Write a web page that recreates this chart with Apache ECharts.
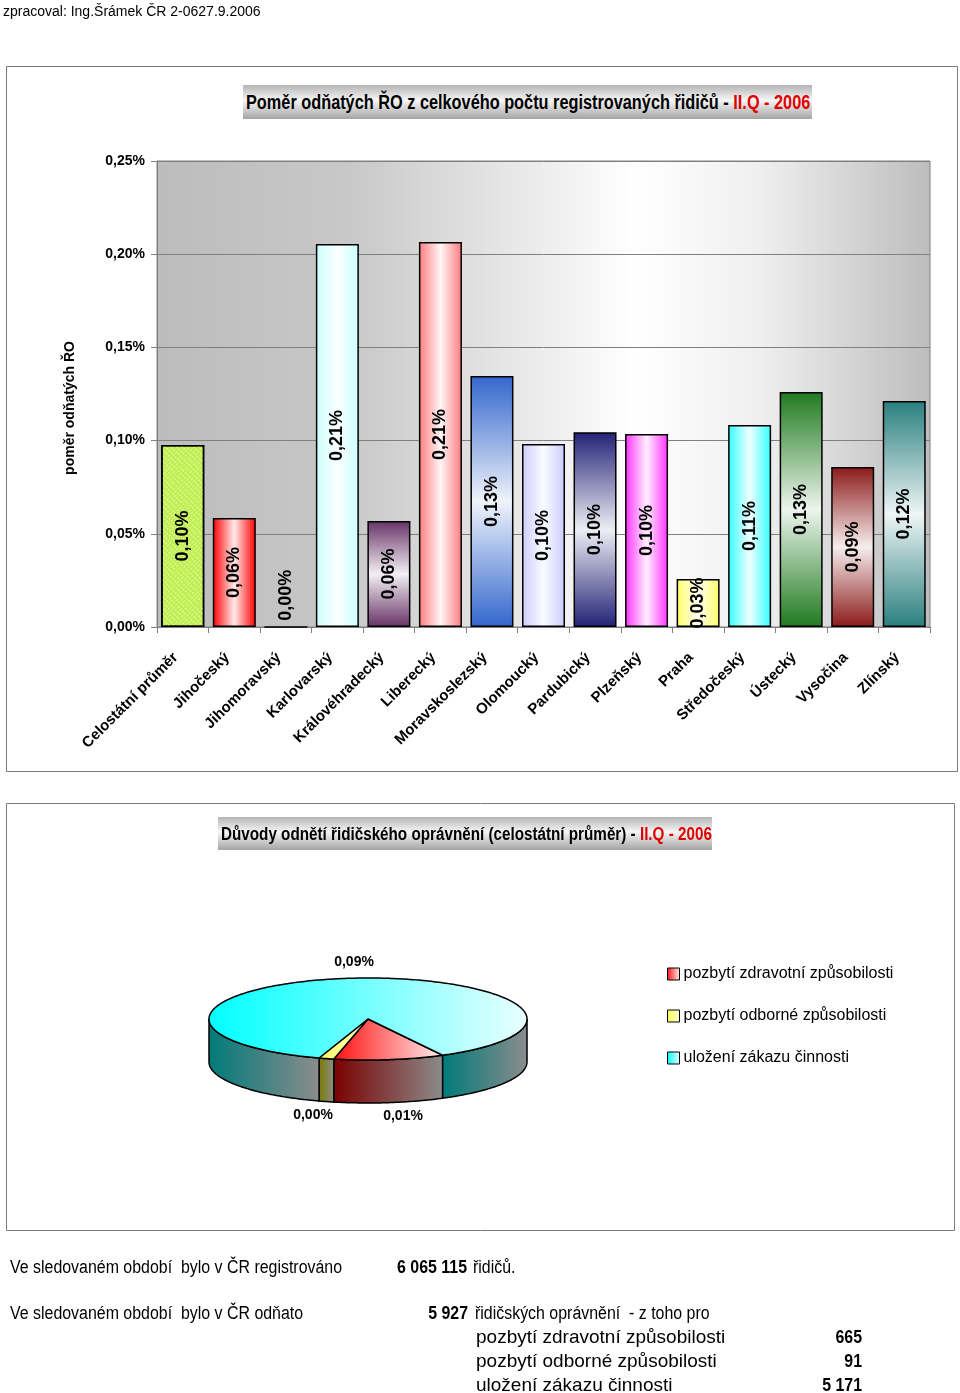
<!DOCTYPE html>
<html><head><meta charset="utf-8">
<script src="https://cdn.jsdelivr.net/npm/echarts@6/dist/echarts.min.js"></script>
<style>
body{margin:0;background:#fff;}
#chart{position:absolute;left:0;top:0;width:960px;height:1393px;}
.t{position:absolute;white-space:nowrap;font-family:"Liberation Sans",Arial,sans-serif;font-size:18px;line-height:20px;color:#000;transform:scaleX(0.885);transform-origin:0 50%;}
.r{transform-origin:100% 50%;}
.w{font-family:"Liberation Sans",Arial,sans-serif;font-size:19px;transform:none;}
.b{font-weight:bold;}
.ttl{position:absolute;background:linear-gradient(to bottom,#b4b4b4 0%,#f6f6f6 45%,#a4a4a4 100%);overflow:visible;}
.ttl span{position:absolute;left:3px;top:0;white-space:nowrap;font-family:"Liberation Sans",Arial,sans-serif;font-weight:bold;font-size:20px;color:#000;transform:scaleX(0.815);transform-origin:0 50%;}
.ttl em{font-style:normal;color:#e00000;}
</style></head><body>
<div id="chart"></div>
<div class="t" style="left:3px;top:3px;font-size:14px;line-height:16px;transform:none;">zpracoval: Ing.Šrámek ČR 2-0627.9.2006</div>
<div class="ttl" style="left:243px;top:85px;width:569px;height:34px;"><span style="line-height:34px;">Poměr odňatých ŘO z celkového počtu registrovaných řidičů - <em>II.Q - 2006</em></span></div>
<div class="ttl" style="left:218px;top:817px;width:494px;height:33px;"><span style="line-height:33px;font-size:18.7px;">Důvody odnětí řidičského oprávnění (celostátní průměr) - <em>II.Q - 2006</em></span></div>
<div class="t" style="left:10px;top:1257px;">Ve sledovaném období&nbsp; bylo v ČR registrováno</div>
<div class="t b" style="left:397px;top:1257px;">6 065 115</div>
<div class="t" style="left:473px;top:1257px;">řidičů.</div>
<div class="t" style="left:10px;top:1303px;">Ve sledovaném období&nbsp; bylo v ČR odňato</div>
<div class="t b r" style="left:368px;width:100px;text-align:right;top:1303px;">5 927</div>
<div class="t" style="left:475px;top:1303px;">řidičských oprávnění&nbsp; - z toho pro</div>
<div class="t w" style="left:476px;top:1327px;">pozbytí zdravotní způsobilosti</div>
<div class="t b r" style="left:762px;width:100px;text-align:right;top:1327px;">665</div>
<div class="t w" style="left:476px;top:1351px;">pozbytí odborné způsobilosti</div>
<div class="t b r" style="left:762px;width:100px;text-align:right;top:1351px;">91</div>
<div class="t w" style="left:476px;top:1375px;">uložení zákazu činnosti</div>
<div class="t b r" style="left:762px;width:100px;text-align:right;top:1375px;">5 171</div>
<script>
// ---------- DATA ----------
const categories = ['Celostátní průměr','Jihočeský','Jihomoravský','Karlovarský','Královéhradecký','Liberecký','Moravskoslezský','Olomoucký','Pardubický','Plzeňský','Praha','Středočeský','Ústecký','Vysočina','Zlínský'];
const ratioPercent = [0.0977,0.0585,0.0,0.2055,0.0569,0.2065,0.1347,0.0982,0.1045,0.1035,0.0258,0.1084,0.1261,0.0858,0.1212];
const yMin = 0, yMax = 0.25, yStep = 0.05;
const pieNames = ['pozbytí zdravotní způsobilosti','pozbytí odborné způsobilosti','uložení zákazu činnosti'];
const pieCounts = [665, 91, 5171];
const registeredDrivers = 6065115;

// ---------- STYLE ----------
const barColors = ['#bfee55','#ff0000','#999999','#ccffff','#663366','#ff7c80','#3366cc','#ccccff','#222277','#ff33ff','#ffff66','#33ffff','#1f7a1f','#8b1a1a','#2a7f7f'];
const barGradKind = ['p','h','h','h','v','h','v','h','v','h','h','h','v','v','v'];
const pieTop = [['#ff1010','#fff0f0'],['#ffff60','#ffffd0'],['#00ffff','#eaffff']];
const pieSide = [['#7a0000','#8c8c8c'],['#7a7a00','#8c8c8c'],['#007a7a','#8c8c8c']];
const SANS = '"Liberation Sans", Arial, sans-serif';

function hex(c){c=c.replace('#','');return [0,2,4].map(i=>parseInt(c.substr(i,2),16));}
function mix(c,t){const [r,g,b]=hex(c);const f=v=>Math.round(v+(255-v)*t);return 'rgb('+f(r)+','+f(g)+','+f(b)+')';}
function barFill(i){
  const c = barColors[i];
  if (barGradKind[i]==='p') return c;
  const v = barGradKind[i]==='v';
  return new echarts.graphic.LinearGradient(0,0,v?0:1,v?1:0,[
    {offset:0,color:c},{offset:0.3,color:mix(c,0.55)},{offset:0.5,color:mix(c,0.92)},
    {offset:0.7,color:mix(c,0.55)},{offset:1,color:c}]);
}
const fmt = v => v.toFixed(2).replace('.',',') + '%';

// ---------- PIE GEOMETRY ----------
const PIE = {cx:368, cy:1019, rx:159, ry:41, depth:43, start:62};
const pieTotal = pieCounts.reduce((a,b)=>a+b,0);
const pieAngles = (()=>{let a=PIE.start;return pieCounts.map(v=>{const s=a;a+=v/pieTotal*360;return [s,a];});})();
function pt(t,dy){const r=t*Math.PI/180;return [PIE.cx+PIE.rx*Math.cos(r),PIE.cy+PIE.ry*Math.sin(r)+(dy||0)];}
function arc(a,b,dy){const pts=[];const n=Math.max(2,Math.ceil(Math.abs(b-a)));for(let i=0;i<=n;i++)pts.push(pt(a+(b-a)*i/n,dy));return pts;}
const pieLabels = (()=>{
  const labs = pieAngles.map(([a,b],i)=>{
    const m=(a+b)/2, r=m*Math.PI/180, s=Math.sin(r);
    const x=PIE.cx+PIE.rx*Math.cos(r);
    const y = s<0 ? PIE.cy+PIE.ry*s-16 : PIE.cy+PIE.ry*s+PIE.depth+14;
    return {x,y,front:s>=0,text:fmt(pieCounts[i]/registeredDrivers*100)};
  });
  const fr = labs.filter(l=>l.front).sort((p,q)=>p.x-q.x);
  for(let k=1;k<fr.length;k++){
    const d=fr[k].x-fr[k-1].x;
    if(d<90){const mid=(fr[k].x+fr[k-1].x)/2;fr[k-1].x=mid-45;fr[k].x=mid+45;}
  }
  return labs;
})();
function pieSeries(i){
  return {
    type:'custom', name:pieNames[i], coordinateSystem:'none', data:[pieCounts[i]],
    itemStyle:{color:new echarts.graphic.LinearGradient(0,0,1,0,[{offset:0,color:pieTop[i][0]},{offset:1,color:pieTop[i][1]}])},
    renderItem:function(){
      const [a,b]=pieAngles[i];
      const ch=[];
      for(const k of [0,360]){
        const s=Math.max(a,k), e=Math.min(b,k+180);
        if(s<e) ch.push({type:'polygon',shape:{points:arc(s,e,0).concat(arc(e,s,PIE.depth))},
          style:{fill:new echarts.graphic.LinearGradient(0,0,1,0,[{offset:0,color:pieSide[i][0]},{offset:1,color:pieSide[i][1]}]),stroke:'#000',lineWidth:1.5}});
      }
      ch.push({type:'polygon',shape:{points:[[PIE.cx,PIE.cy]].concat(arc(a,b,0))},
        style:{fill:new echarts.graphic.LinearGradient(0,0,1,0,[{offset:0,color:pieTop[i][0]},{offset:1,color:pieTop[i][1]}]),stroke:'#000',lineWidth:1.5}});
      const L=pieLabels[i];
      ch.push({type:'text',x:L.x,y:L.y,z2:10,style:{text:L.text,fill:'#000',font:'bold 14px '+SANS,align:'center',verticalAlign:'middle'}});
      return {type:'group',children:ch};
    }
  };
}

const chart = echarts.init(document.getElementById('chart'),null,{renderer:'canvas'});
chart.setOption({
  animation:false,
  graphic:[
    {type:'rect',silent:true,z:-10,shape:{x:6.5,y:66.5,width:951,height:705},style:{fill:'none',stroke:'#7a7a7a',lineWidth:1}},
    {type:'rect',silent:true,z:-10,shape:{x:6.5,y:803.5,width:948,height:427},style:{fill:'none',stroke:'#7a7a7a',lineWidth:1}}
  ],
  legend:{
    orient:'vertical',left:662,top:961,itemWidth:12,itemHeight:12,itemGap:26,icon:'rect',
    textStyle:{fontFamily:SANS,fontSize:16,color:'#000',padding:[0,0,0,-1]},
    data:pieNames.map((n,i)=>({name:n,itemStyle:{color:new echarts.graphic.LinearGradient(0,0,1,0,[{offset:0,color:pieTop[i][0]},{offset:1,color:pieTop[i][1]}]),borderColor:'#000',borderWidth:1}}))
  },
  grid:{left:157,top:161,right:30,bottom:766,show:true,
    backgroundColor:new echarts.graphic.LinearGradient(0,0,1,0,[{offset:0,color:'#bcbcbc'},{offset:0.25,color:'#c8c8c8'},{offset:0.45,color:'#e6e6e6'},{offset:0.62,color:'#ffffff'},{offset:0.78,color:'#efefef'},{offset:1,color:'#bdbdbd'}]),
    borderColor:'#808080',borderWidth:1},
  xAxis:{type:'category',data:categories,
    axisLine:{lineStyle:{color:'#808080'}},
    axisTick:{show:true,length:6,lineStyle:{color:'#808080'}},
    axisLabel:{interval:0,rotate:45,margin:21,padding:[0,10,0,0],fontFamily:SANS,fontSize:15,fontWeight:'bold',color:'#000'}},
  yAxis:{type:'value',min:yMin,max:yMax,interval:yStep,
    name:'poměr odňatých ŘO',nameLocation:'middle',nameGap:80,nameRotate:90,
    nameTextStyle:{fontFamily:SANS,fontSize:14,fontWeight:'bold',color:'#000',padding:[0,0,0,-28]},
    axisLine:{show:true,lineStyle:{color:'#808080'}},
    axisTick:{show:true,length:6,lineStyle:{color:'#808080'}},
    splitLine:{lineStyle:{color:'#808080'}},
    axisLabel:{margin:12,formatter:v=>fmt(v),fontFamily:SANS,fontSize:14,fontWeight:'bold',color:'#000'}},
  series:[
    {type:'bar',barWidth:43,
      itemStyle:{borderColor:'#000',borderWidth:1.5},
      label:{show:true,position:'inside',rotate:90,fontFamily:SANS,fontSize:18,fontWeight:'bold',color:'#000',formatter:p=>fmt(p.value)},
      data:ratioPercent.map((v,i)=>{
        const d={value:v,itemStyle:{color:barFill(i)}};
        if(barGradKind[i]==='p'){
          d.itemStyle.decal={color:'rgba(245,255,175,0.85)',dashArrayX:[[2,2]],dashArrayY:[1,2],rotation:-Math.PI/4,symbol:'rect',symbolSize:1};
        }
        if(v===0){d.label={position:'insideBottom',align:'left',verticalAlign:'middle',distance:7};}
        return d;
      })
    },
    pieSeries(0), pieSeries(1), pieSeries(2)
  ]
});
</script>
</body></html>
